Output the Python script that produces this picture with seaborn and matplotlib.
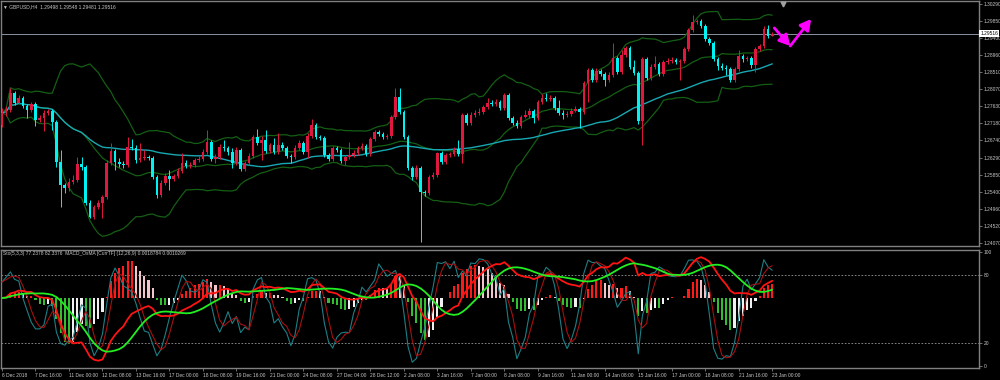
import numpy as np
import pandas as pd
import matplotlib
matplotlib.use("Agg")
import matplotlib.pyplot as plt
import matplotlib.transforms as mtransforms
from matplotlib.patches import FancyArrowPatch
import seaborn as sns

# ---------------- data ----------------
symbol_title = "\u25bc GBPUSD,H4  1.29498 1.29548 1.29481 1.29516"
ind_title = "Sto(5,3,3) 77.2378 82.3376  MACD_OsMA [CurrTF] (12,26,9) 0.0018784 0.0010269"

time_labels = ["6 Dec 2018", "7 Dec 16:00", "11 Dec 00:00", "12 Dec 08:00", "13 Dec 16:00",
               "17 Dec 00:00", "18 Dec 08:00", "19 Dec 16:00", "21 Dec 00:00", "24 Dec 08:00",
               "27 Dec 04:00", "28 Dec 12:00", "2 Jan 08:00", "3 Jan 16:00", "7 Jan 00:00",
               "8 Jan 08:00", "9 Jan 16:00", "11 Jan 00:00", "14 Jan 08:00", "15 Jan 16:00",
               "17 Jan 00:00", "18 Jan 08:00", "21 Jan 16:00", "23 Jan 00:00"]
bars_per_label = 8

# prices in points (price x 10^4)
first_open_pts = 12714
close_pts = [12745, 12753, 12797, 12771, 12784, 12763, 12753, 12769, 12727, 12732,
             12745, 12750, 12722, 12618, 12558, 12550, 12566, 12571, 12613, 12605,
             12511, 12475, 12501, 12511, 12527, 12615, 12646, 12618, 12613, 12610,
             12657, 12654, 12623, 12628, 12631, 12628, 12579, 12532, 12563, 12581,
             12574, 12581, 12594, 12615, 12607, 12610, 12623, 12626, 12644, 12670,
             12626, 12631, 12657, 12654, 12644, 12615, 12649, 12600, 12615, 12633,
             12683, 12667, 12675, 12646, 12662, 12644, 12662, 12654, 12633, 12631,
             12654, 12667, 12644, 12685, 12714, 12683, 12680, 12636, 12626, 12654,
             12649, 12620, 12631, 12636, 12641, 12654, 12659, 12639, 12678, 12696,
             12691, 12683, 12685, 12735, 12787, 12748, 12683, 12602, 12579, 12602,
             12540, 12537, 12579, 12584, 12641, 12618, 12636, 12639, 12652, 12639,
             12740, 12719, 12740, 12745, 12748, 12761, 12771, 12769, 12774, 12758,
             12792, 12732, 12719, 12711, 12735, 12740, 12750, 12732, 12774, 12784,
             12782, 12784, 12758, 12745, 12740, 12743, 12750, 12756, 12748, 12823,
             12857, 12831, 12854, 12847, 12831, 12844, 12888, 12852, 12896, 12914,
             12865, 12849, 12724, 12886, 12836, 12865, 12873, 12847, 12878, 12880,
             12883, 12878, 12880, 12912, 12961, 12982, 12984, 12971, 12938, 12927,
             12886, 12867, 12862, 12860, 12831, 12860, 12893, 12886, 12888, 12870,
             12912, 12919, 12964, 12945, 12951]
high_pts = [12758, 12763, 12810, 12802, 12792, 12789, 12769, 12774, 12774, 12740,
            12753, 12756, 12756, 12727, 12649, 12563, 12576, 12584, 12631, 12631,
            12610, 12519, 12506, 12519, 12532, 12623, 12667, 12652, 12628, 12620,
            12683, 12678, 12662, 12667, 12649, 12636, 12633, 12584, 12571, 12589,
            12597, 12587, 12602, 12641, 12623, 12618, 12628, 12633, 12652, 12701,
            12675, 12639, 12665, 12675, 12659, 12654, 12657, 12654, 12620, 12641,
            12688, 12704, 12685, 12701, 12667, 12680, 12693, 12670, 12659, 12639,
            12662, 12675, 12672, 12693, 12730, 12719, 12688, 12685, 12641, 12659,
            12659, 12654, 12636, 12670, 12649, 12659, 12667, 12665, 12683, 12701,
            12701, 12696, 12691, 12740, 12810, 12810, 12753, 12688, 12607, 12610,
            12607, 12545, 12584, 12592, 12644, 12646, 12641, 12644, 12657, 12675,
            12745, 12745, 12748, 12753, 12758, 12766, 12784, 12779, 12782, 12779,
            12797, 12797, 12737, 12727, 12740, 12753, 12758, 12756, 12779, 12795,
            12797, 12792, 12789, 12779, 12753, 12750, 12758, 12763, 12761, 12828,
            12862, 12862, 12862, 12860, 12852, 12852, 12927, 12893, 12909, 12919,
            12919, 12883, 12854, 12891, 12891, 12873, 12893, 12878, 12883, 12888,
            12891, 12888, 12886, 12917, 12966, 13000, 12990, 12990, 12977, 12943,
            12932, 12891, 12875, 12870, 12865, 12865, 12909, 12899, 12893, 12893,
            12917, 12925, 12971, 12974, 12956]
low_pts = [12709, 12737, 12748, 12766, 12769, 12758, 12732, 12748, 12711, 12722,
           12698, 12740, 12701, 12605, 12501, 12537, 12542, 12561, 12566, 12597,
           12506, 12472, 12470, 12496, 12472, 12522, 12610, 12597, 12605, 12602,
           12605, 12649, 12615, 12618, 12623, 12623, 12574, 12524, 12527, 12558,
           12545, 12568, 12576, 12589, 12602, 12602, 12605, 12618, 12620, 12639,
           12620, 12615, 12626, 12646, 12636, 12602, 12610, 12594, 12594, 12610,
           12628, 12662, 12623, 12641, 12641, 12639, 12639, 12649, 12628, 12615,
           12626, 12649, 12639, 12628, 12680, 12678, 12675, 12631, 12620, 12620,
           12644, 12615, 12610, 12626, 12631, 12636, 12649, 12633, 12633, 12672,
           12685, 12678, 12678, 12680, 12730, 12743, 12678, 12597, 12571, 12574,
           12410, 12529, 12532, 12574, 12579, 12613, 12613, 12631, 12633, 12633,
           12615, 12714, 12714, 12735, 12740, 12743, 12756, 12763, 12763, 12753,
           12753, 12727, 12714, 12706, 12706, 12732, 12732, 12719, 12727, 12769,
           12776, 12776, 12753, 12740, 12730, 12735, 12737, 12748, 12706, 12743,
           12774, 12826, 12826, 12841, 12815, 12826, 12839, 12847, 12847, 12891,
           12860, 12844, 12717, 12662, 12831, 12831, 12860, 12841, 12841, 12873,
           12875, 12873, 12831, 12875, 12906, 12956, 12977, 12966, 12932, 12922,
           12880, 12857, 12857, 12844, 12826, 12826, 12854, 12878, 12880, 12862,
           12852, 12906, 12914, 12940, 12945]

price_ticks = [1.30290, 1.29850, 1.29400, 1.28960, 1.28510, 1.28070, 1.27630, 1.27180,
               1.26740, 1.26290, 1.25850, 1.25400, 1.24960, 1.24520, 1.24070]
last_price = 1.29516
osc_ticks = [0, 20, 80, 100]
osc_levels = [80, 20]

# hand-drawn forecast arrow (bar index, price)
forecast_x = [184.5, 188.3, 193.3]
forecast_y = [1.29662, 1.29194, 1.29896]

# ---------------- derived series ----------------
close = np.array(close_pts) / 1e4
high = np.array(high_pts) / 1e4
low = np.array(low_pts) / 1e4
openp = np.concatenate([[first_open_pts / 1e4], close[:-1]])
high = np.maximum(high, np.maximum(openp, close))
low = np.minimum(low, np.minimum(openp, close))
n = len(close)
idx = np.arange(n)

c = pd.Series(close)
bb_mid = c.rolling(20, min_periods=1).mean()
bb_sd = c.rolling(20, min_periods=1).std(ddof=0)
bb_up = bb_mid + 2 * bb_sd
bb_dn = bb_mid - 2 * bb_sd
ma_slow = c.rolling(50, min_periods=1).mean()

hs, ls = pd.Series(high), pd.Series(low)
ll = ls.rolling(5, min_periods=1).min()
hh = hs.rolling(5, min_periods=1).max()
stoch_k = 100 * (c - ll).rolling(3, min_periods=1).sum() / (hh - ll).rolling(3, min_periods=1).sum()
stoch_d = stoch_k.rolling(3, min_periods=1).mean()

macd = c.ewm(span=12, adjust=False).mean() - c.ewm(span=26, adjust=False).mean()
macd_sig = macd.rolling(9, min_periods=1).mean()
osma = macd - macd_sig

# ---------------- style ----------------
sns.set_theme(style="dark", rc={"axes.facecolor": "black", "figure.facecolor": "black",
                                "savefig.facecolor": "black", "axes.edgecolor": "#808080"})
plt.rcParams["font.family"] = ["Liberation Sans", "DejaVu Sans"]

BULL = "#e0173f"
BEAR = "#00f2f2"
BAND = "#145f14"
MA_COL = "#18a8b2"
TXT = "#c8c8c8"
GRAY = "#808080"

W, H = 1000, 380
fig = plt.figure(figsize=(W / 100, H / 100), dpi=100)
ax = fig.add_axes([1 / W, 1 - 246 / H, 978 / W, 245 / H])
ax2 = fig.add_axes([1 / W, 12 / H, 978 / W, 118 / H], sharex=ax)

for a in (ax, ax2):
    a.set_facecolor("black")
    for s in a.spines.values():
        s.set_color(GRAY)
        s.set_linewidth(1.0)
    a.grid(False)

# ---------------- main panel ----------------
up = close >= openp
cols = np.where(up, BULL, BEAR)
ax.vlines(idx, low, high, colors=cols, linewidth=0.7, zorder=3)
body_b = np.minimum(openp, close)
body_h = np.maximum(np.abs(close - openp), 0.00006)
ax.bar(idx, body_h, bottom=body_b, width=0.62, color=cols, linewidth=0, zorder=4)

for ser, col, lw in [(bb_up, BAND, 0.9), (bb_mid, BAND, 0.9), (bb_dn, BAND, 0.9), (ma_slow, MA_COL, 1.0)]:
    sns.lineplot(x=idx, y=ser.values, ax=ax, color=col, linewidth=lw, estimator=None,
                 sort=False, legend=False, zorder=2)

ax.axhline(last_price, color="#8793a0", linewidth=0.7, zorder=1)

ax.set_xlim(-0.24, 233.4)
ax.set_ylim(1.23994, 1.30364)
ax.yaxis.tick_right()
ax.set_yticks(price_ticks)
ax.set_yticklabels([f"{v:.5f}" for v in price_ticks])
ax.tick_params(axis="y", colors=TXT, labelsize=3.5, length=2, width=0.6, pad=1.5,
               direction="out", right=True, left=False)
ax.tick_params(axis="y", which="both", color=GRAY)
ax.tick_params(axis="x", bottom=False, labelbottom=False)
ax.set_xlabel("")
ax.set_ylabel("")

tr = mtransforms.blended_transform_factory(ax.transAxes, ax.transData)
ax.text(1.0015, last_price, f"{last_price:.5f}", transform=tr, ha="left", va="center",
        fontsize=3.5, color="black", zorder=10, clip_on=False,
        bbox=dict(facecolor="white", edgecolor="none", pad=0.7))

a1 = FancyArrowPatch((forecast_x[0], forecast_y[0]), (forecast_x[1], forecast_y[1]),
                     arrowstyle="-|>,head_length=4,head_width=2.2", color="#ff00ff",
                     linewidth=2.0, mutation_scale=1.6, zorder=6, shrinkA=0, shrinkB=0)
a2 = FancyArrowPatch((forecast_x[1], forecast_y[1]), (forecast_x[2], forecast_y[2]),
                     arrowstyle="-|>,head_length=4,head_width=2.2", color="#ff00ff",
                     linewidth=2.0, mutation_scale=1.6, zorder=6, shrinkA=0, shrinkB=0)
ax.add_patch(a1)
ax.add_patch(a2)
ax.plot([186.6], [1.3029], marker="v", markersize=3.5, color="#a0a0a0", clip_on=False, zorder=7)

# ---------------- oscillator panel ----------------
zero_lvl = 59.4
h_k = 40 / np.nanmax(np.abs(osma.values))
l_k = 55 / np.nanmax(np.abs(macd.values))
prev = np.concatenate([[0.0], osma.values[:-1]])
hv = osma.values
hcols = np.where(hv >= 0, np.where(hv >= prev, "#ff1a1a", "#f2c4cc"),
                 np.where(hv < prev, "#2fbf2f", "#f0f0f0"))
ax2.bar(idx, hv * h_k, bottom=zero_lvl, width=0.5, color=hcols, linewidth=0, zorder=2)

for lvl in osc_levels:
    ax2.axhline(lvl, color="#9a9a9a", linewidth=0.6, linestyle=(0, (2, 2)), zorder=1)

sns.lineplot(x=idx, y=stoch_k.values, ax=ax2, color="#1d7f86", linewidth=0.8,
             estimator=None, sort=False, legend=False, zorder=3)
sns.lineplot(x=idx, y=stoch_d.values, ax=ax2, color="#a81010", linewidth=0.8,
             estimator=None, sort=False, legend=False, zorder=3)
sns.lineplot(x=idx, y=zero_lvl + macd.values * l_k, ax=ax2, color="#ff1414", linewidth=1.3,
             estimator=None, sort=False, legend=False, zorder=4)
sns.lineplot(x=idx, y=zero_lvl + macd_sig.values * l_k, ax=ax2, color="#22ee22", linewidth=1.3,
             estimator=None, sort=False, legend=False, zorder=5)

ax2.set_ylim(-2.0, 101.5)
ax2.yaxis.tick_right()
ax2.set_yticks(osc_ticks)
ax2.set_yticklabels([str(v) for v in osc_ticks])
ax2.tick_params(axis="y", colors=TXT, labelsize=3.5, length=2, width=0.6, pad=1.5,
                direction="out", right=True, left=False)
ax2.tick_params(axis="y", which="both", color=GRAY)
ax2.set_xticks(idx[::bars_per_label])
ax2.set_xticklabels(time_labels)
ax2.tick_params(axis="x", colors=TXT, labelsize=3.5, length=2.5, width=0.6, pad=1.2,
                direction="out", bottom=True)
ax2.tick_params(axis="x", which="both", color=GRAY)
for lab in ax2.get_xticklabels():
    lab.set_ha("left")
ax2.set_xlabel("")
ax2.set_ylabel("")

fig.text(3 / W, 1 - 7 / H, symbol_title, color=TXT, fontsize=3.5, ha="left", va="center")
fig.text(3 / W, 1 - 253.5 / H, ind_title, color=TXT, fontsize=3.5, ha="left", va="center")

fig.savefig("out.png", dpi=100, facecolor="black")
